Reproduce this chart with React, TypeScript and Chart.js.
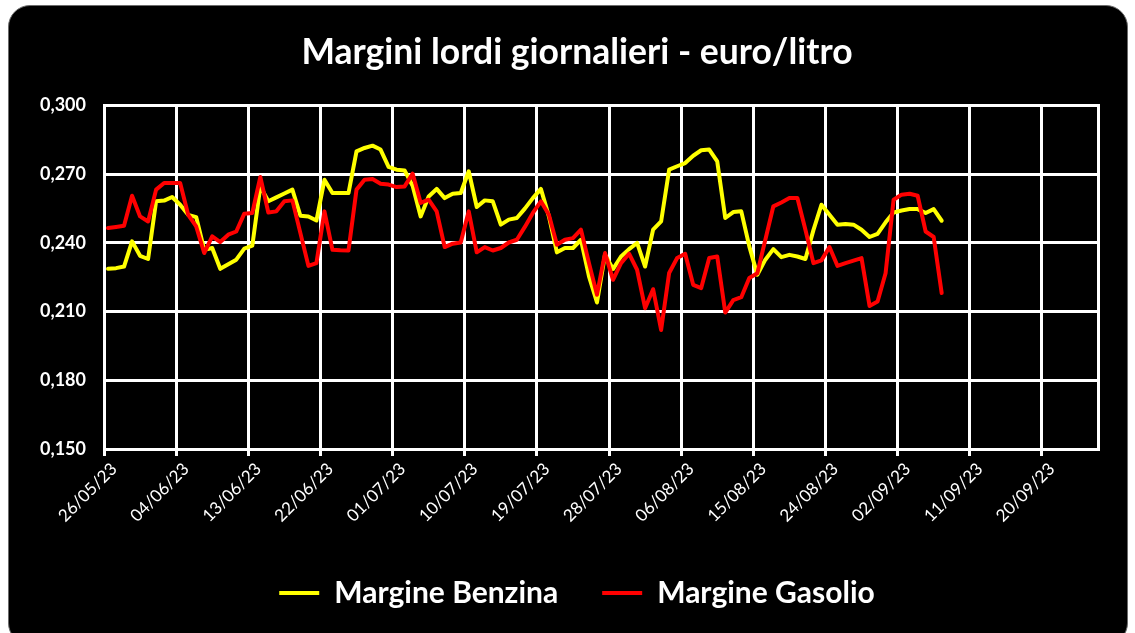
import React, { useEffect, useRef } from 'react';
import { Chart, registerables } from 'chart.js';

Chart.register(...registerables);

const startDate = '26/05/23';

const benzina = [
  0.2287, 0.2290, 0.2297, 0.2407, 0.2344, 0.2330, 0.2582, 0.2585, 0.2601, 0.2567,
  0.2523, 0.2513, 0.2370, 0.2378, 0.2287, 0.2307, 0.2327, 0.2375, 0.2388, 0.2647,
  0.2582, 0.2599, 0.2616, 0.2633, 0.2519, 0.2516, 0.2498, 0.2676, 0.2618, 0.2618,
  0.2618, 0.2800, 0.2815, 0.2825, 0.2808, 0.2732, 0.2720, 0.2717, 0.2650, 0.2516,
  0.2603, 0.2636, 0.2596, 0.2615, 0.2618, 0.2713, 0.2557, 0.2586, 0.2582, 0.2480,
  0.2502, 0.2509, 0.2550, 0.2596, 0.2636, 0.2516, 0.2359, 0.2378, 0.2378, 0.2414,
  0.2254, 0.2140, 0.2349, 0.2286, 0.2341, 0.2373, 0.2400, 0.2297, 0.2458, 0.2494,
  0.2720, 0.2735, 0.2749, 0.2781, 0.2805, 0.2808, 0.2756, 0.2509, 0.2535, 0.2538,
  0.2385, 0.2261, 0.2327, 0.2373, 0.2338, 0.2348, 0.2341, 0.2330, 0.2456, 0.2567,
  0.2523, 0.2480, 0.2483, 0.2480, 0.2458, 0.2426, 0.2440, 0.2490, 0.2533, 0.2542,
  0.2548, 0.2548, 0.2531, 0.2548, 0.2497,
];

const gasolio = [
  0.2465, 0.2470, 0.2475, 0.2606, 0.2516, 0.2494, 0.2633, 0.2662, 0.2662, 0.2662,
  0.2523, 0.2472, 0.2356, 0.2429, 0.2404, 0.2436, 0.2450, 0.2528, 0.2531, 0.2688,
  0.2533, 0.2538, 0.2582, 0.2586, 0.2443, 0.2300, 0.2312, 0.2538, 0.2370, 0.2368,
  0.2367, 0.2633, 0.2676, 0.2679, 0.2659, 0.2655, 0.2644, 0.2647, 0.2703, 0.2575,
  0.2589, 0.2538, 0.2382, 0.2397, 0.2402, 0.2538, 0.2359, 0.2382, 0.2367, 0.2378,
  0.2402, 0.2414, 0.2470, 0.2531, 0.2582, 0.2523, 0.2392, 0.2414, 0.2421, 0.2458,
  0.2312, 0.2174, 0.2356, 0.2239, 0.2312, 0.2353, 0.2283, 0.2115, 0.2198, 0.2020,
  0.2269, 0.2334, 0.2353, 0.2217, 0.2203, 0.2334, 0.2341, 0.2096, 0.2150, 0.2163,
  0.2247, 0.2268, 0.2414, 0.2560, 0.2577, 0.2596, 0.2596, 0.2458, 0.2312, 0.2324,
  0.2382, 0.2300, 0.2312, 0.2323, 0.2334, 0.2125, 0.2144, 0.2268, 0.2589, 0.2611,
  0.2615, 0.2606, 0.2450, 0.2426, 0.2181,
];

const xTickLabels = [
  '26/05/23', '04/06/23', '13/06/23', '22/06/23', '01/07/23', '10/07/23', '19/07/23',
  '28/07/23', '06/08/23', '15/08/23', '24/08/23', '02/09/23', '11/09/23', '20/09/23',
];

const axisEndDate = '27/09/23';

const yTicks = [0.15, 0.18, 0.21, 0.24, 0.27, 0.3];

const titleText = 'Margini lordi giornalieri - euro/litro';
const seriesNames = ['Margine Benzina', 'Margine Gasolio'];
const seriesColors = ['#FFFF00', '#FF0000'];

function parseDate(s: string): number {
  const [d, m, y] = s.split('/').map(Number);
  return Date.UTC(2000 + y, m - 1, d);
}
const DAY = 86400000;
function dayOffset(s: string): number {
  return Math.round((parseDate(s) - parseDate(startDate)) / DAY);
}

export default function App() {
  const canvasRef = useRef<HTMLCanvasElement | null>(null);

  useEffect(() => {
    const canvas = canvasRef.current;
    if (!canvas) return;
    const tickDays = xTickLabels.map(dayOffset);
    const maxDay = dayOffset(axisEndDate);
    const font = 'Lato';

    const chart = new Chart(canvas, {
      type: 'line',
      data: {
        datasets: [
          {
            label: seriesNames[0],
            data: benzina.map((v, i) => ({ x: i + 0.5, y: v })),
            borderColor: seriesColors[0],
            backgroundColor: seriesColors[0],
            borderWidth: 4,
            pointRadius: 0,
            tension: 0,
            borderJoinStyle: 'round',
            borderCapStyle: 'round',
            order: 1,
          },
          {
            label: seriesNames[1],
            data: gasolio.map((v, i) => ({ x: i + 0.5, y: v })),
            borderColor: seriesColors[1],
            backgroundColor: seriesColors[1],
            borderWidth: 4,
            pointRadius: 0,
            tension: 0,
            borderJoinStyle: 'round',
            borderCapStyle: 'round',
            order: 0,
          },
        ],
      },
      options: {
        responsive: false,
        animation: false,
        events: [],
        layout: { padding: { left: 0, right: -19, top: 31, bottom: 15 } },
        plugins: {
          title: {
            display: true,
            text: titleText,
            color: '#FFFFFF',
            font: { family: font, size: 35.5, weight: 'bold', lineHeight: 1.2 },
            padding: { top: 0, bottom: 32 },
          },
          legend: {
            display: true,
            position: 'bottom',
            labels: {
              color: '#FFFFFF',
              font: { family: font, size: 30, weight: 'bold' },
              usePointStyle: true,
              pointStyle: 'line',
              pointStyleWidth: 40,
              padding: 44,
              sort: (a: any, b: any) => a.datasetIndex - b.datasetIndex,
            },
          },
          tooltip: { enabled: false },
        },
        scales: {
          x: {
            type: 'linear',
            min: 0,
            max: maxDay,
            afterBuildTicks: (s: any) => {
              s.ticks = tickDays.map((v) => ({ value: v }));
            },
            afterFit: (s: any) => {
              s.height = 85;
            },
            ticks: {
              autoSkip: false,
              minRotation: 45,
              maxRotation: 45,
              color: '#FFFFFF',
              font: { family: font, size: 17 },
              padding: 3,
              labelOffset: 10,
              callback: (_v: any, i: number) => xTickLabels[i],
            },
            grid: { color: '#FFFFFF', lineWidth: 3, tickLength: 7, drawTicks: true },
            border: { color: '#FFFFFF', width: 3 },
          },
          y: {
            min: yTicks[0],
            max: yTicks[yTicks.length - 1],
            afterBuildTicks: (s: any) => {
              s.ticks = yTicks.map((v) => ({ value: v }));
            },
            afterFit: (s: any) => {
              s.width = 104;
            },
            ticks: {
              color: '#FFFFFF',
              font: { family: font, size: 18, weight: 'bold' },
              padding: 18,
              callback: (v: any) => Number(v).toFixed(3).replace('.', ','),
            },
            grid: { color: '#FFFFFF', lineWidth: 3, drawTicks: false },
            border: { color: '#FFFFFF', width: 3 },
          },
          y2: {
            position: 'right',
            display: true,
            min: yTicks[0],
            max: yTicks[yTicks.length - 1],
            afterFit: (s: any) => {
              s.width = 56;
            },
            ticks: { display: false },
            grid: { display: false, drawOnChartArea: false },
            border: { display: true, color: '#FFFFFF', width: 3 },
          },
        },
      },
    } as any);

    return () => chart.destroy();
  }, []);

  return (
    <div
      style={{
        position: 'fixed',
        left: 0,
        top: 0,
        width: 1135,
        height: 633,
        background: '#FFFFFF',
        overflow: 'hidden',
      }}
    >
      <div
        style={{
          position: 'absolute',
          left: 8,
          top: 5,
          width: 1120,
          height: 640,
          background: '#000000',
          borderRadius: 22,
          border: '1px solid #6b6b6b',
          boxSizing: 'border-box',
        }}
      />
      <canvas
        ref={canvasRef}
        width={1135}
        height={633}
        style={{ position: 'absolute', left: 0, top: 0, width: 1135, height: 633 }}
      />
    </div>
  );
}
